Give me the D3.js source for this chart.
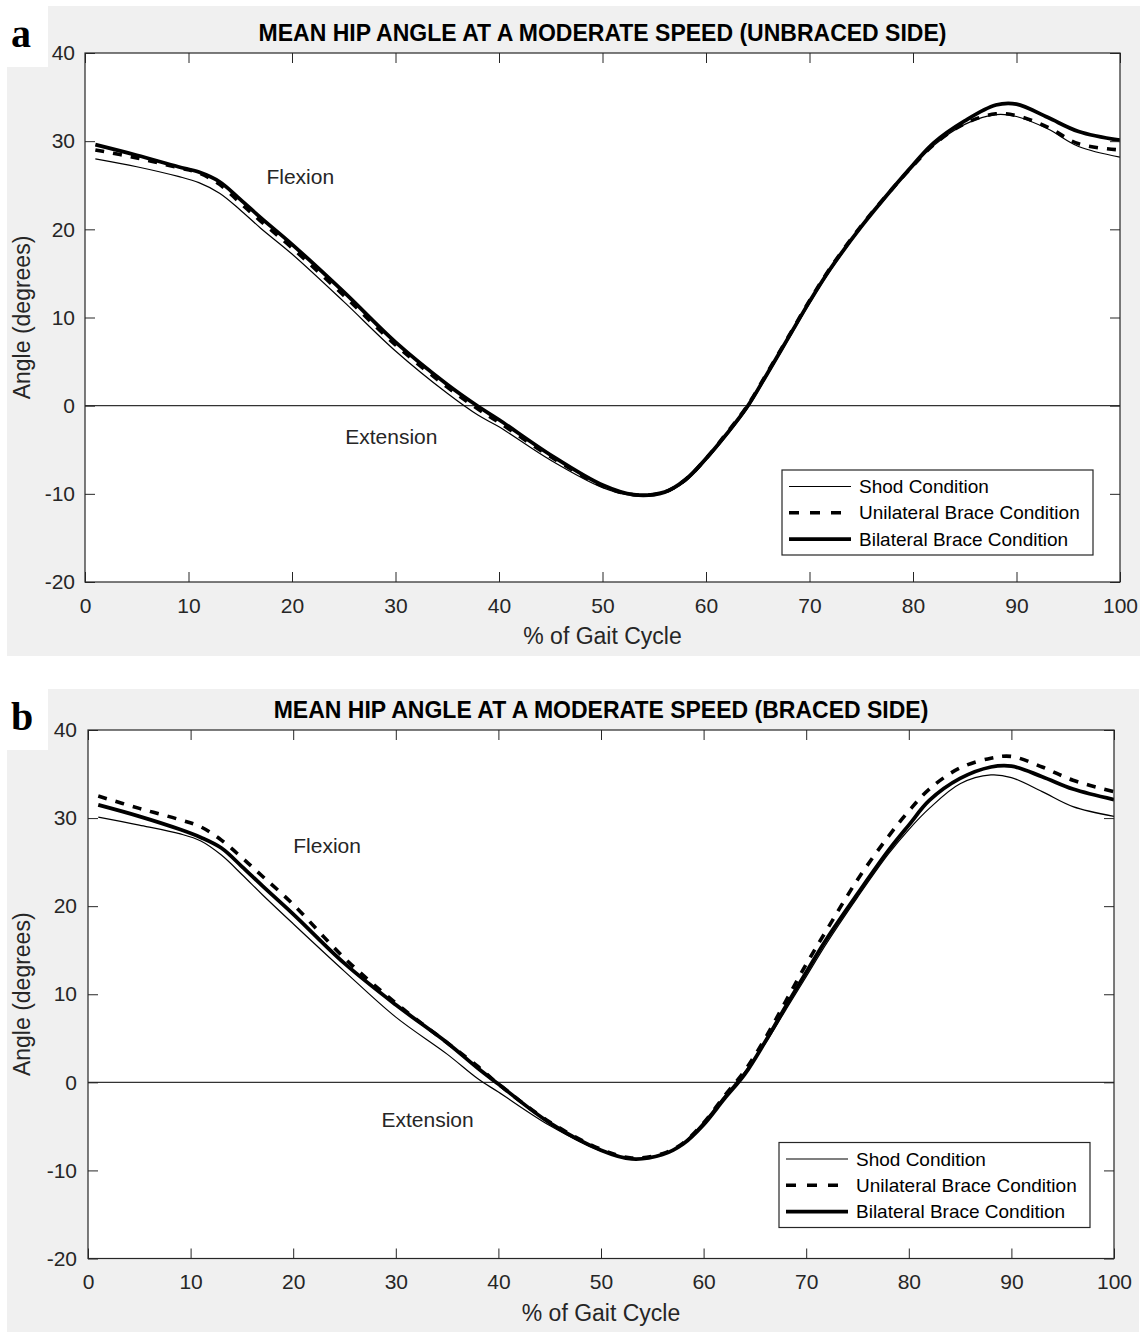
<!DOCTYPE html>
<html>
<head>
<meta charset="utf-8">
<script src="https://cdn.jsdelivr.net/npm/d3@7"></script>
<style>
  body { margin: 0; background: #fff; }
  text { font-family: "Liberation Sans", Arial, Helvetica, sans-serif; }
</style>
</head>
<body>
<svg width="1145" height="1332"></svg>
<script>
"use strict";

// % of gait cycle at which the curves were read
var gait = [1, 5, 9, 11, 13, 15, 17, 20, 25, 30, 35, 38, 40, 45, 50, 53, 56, 58, 60, 62,
            64, 66, 68, 70, 72, 75, 78, 80, 82, 85, 88, 90, 93, 96, 100];

// Panel a: unbraced side (degrees)
var shodA = [28.0, 27.1, 26.0, 25.3, 24.1, 22.2, 20.1, 17.2, 11.8, 6.2, 1.4, -1.1, -2.4, -6.2, -9.3, -10.2, -9.9, -8.6, -6.2, -3.4,
             -0.3, 3.6, 7.6, 11.6, 15.3, 20.2, 24.5, 27.1, 29.5, 31.9, 33.0, 32.8, 31.4, 29.4, 28.2];
var uniA  = [29.0, 28.1, 27.0, 26.4, 25.1, 23.0, 20.9, 17.9, 12.5, 6.9, 2.1, -0.4, -1.9, -5.8, -9.1, -10.1, -9.8, -8.4, -6.0, -3.1,
             0.0, 3.9, 7.9, 11.9, 15.6, 20.4, 24.6, 27.2, 29.6, 32.0, 33.1, 32.9, 31.6, 29.7, 29.0];
var bilA  = [29.6, 28.4, 27.1, 26.5, 25.4, 23.4, 21.3, 18.3, 12.9, 7.2, 2.4, -0.1, -1.6, -5.6, -9.0, -10.1, -9.8, -8.4, -6.0, -3.2,
             -0.1, 3.8, 7.8, 11.8, 15.5, 20.3, 24.6, 27.3, 29.8, 32.3, 34.1, 34.2, 32.7, 31.1, 30.1];

// Panel b: braced side (degrees)
var shodB = [30.1, 29.2, 28.2, 27.4, 25.8, 23.6, 21.3, 18.0, 12.6, 7.4, 3.2, 0.4, -1.1, -4.9, -7.8, -8.7, -8.2, -6.9, -4.5, -1.6,
             1.2, 4.4, 8.2, 12.0, 15.8, 21.0, 25.9, 28.7, 31.1, 33.9, 34.9, 34.6, 33.0, 31.3, 30.2];
var uniB  = [32.5, 31.1, 29.8, 29.0, 27.5, 25.5, 23.4, 20.2, 14.1, 9.0, 4.5, 1.8, -0.2, -4.5, -7.6, -8.6, -8.1, -6.9, -4.6, -1.6,
             1.3, 5.0, 9.2, 13.4, 17.3, 23.0, 27.9, 30.8, 33.3, 35.7, 36.8, 37.0, 35.8, 34.3, 33.0];
var bilB  = [31.5, 30.2, 28.7, 27.8, 26.6, 24.5, 22.3, 19.1, 13.5, 8.8, 4.5, 1.6, -0.2, -4.6, -7.7, -8.7, -8.2, -7.0, -4.8, -1.9,
             0.9, 4.6, 8.6, 12.5, 16.3, 21.4, 26.3, 29.2, 32.0, 34.5, 35.8, 35.9, 34.7, 33.3, 32.1];

var legendLabels = ["Shod Condition", "Unilateral Brace Condition", "Bilateral Brace Condition"];
var xTicks = [0, 10, 20, 30, 40, 50, 60, 70, 80, 90, 100];
var yTicks = [-20, -10, 0, 10, 20, 30, 40];

// Line style per condition (shod, unilateral, bilateral)
var lineStyles = [
    { width: 1.2, dash: null },
    { width: 3.6, dash: "9,9" },
    { width: 3.8, dash: null }
];

var svg = d3.select("svg");
var axisColor = "#262626";

// Plain hyphen for negative numbers, like the original
var plainFormat = function(d) { return String(d); };

var drawPanel = function(p, idx) {

    var g = svg.append("g").attr("class", "panel");

    // Grey figure background with the white notch behind the panel letter
    g.append("path")
        .attr("d", "M48," + p.bgTop + "H" + p.bgRight + "V" + p.bgBottom + "H7V" + (p.bgTop + 61) + "H48Z")
        .attr("fill", "#f0f0f0");

    var xScale = d3.scaleLinear().domain([0, 100]).range([p.left, p.right]);
    var yScale = d3.scaleLinear().domain([-20, 40]).range([p.bottom, p.top]);

    // White axes area
    g.append("rect")
        .attr("x", p.left).attr("y", p.top)
        .attr("width", p.right - p.left).attr("height", p.bottom - p.top)
        .attr("fill", "#fff");

    g.append("clipPath").attr("id", "clip" + idx)
        .append("rect")
        .attr("x", p.left).attr("y", p.top)
        .attr("width", p.right - p.left).attr("height", p.bottom - p.top);

    var plot = g.append("g").attr("clip-path", "url(#clip" + idx + ")");

    // Zero reference line
    plot.append("line")
        .attr("x1", xScale(0)).attr("x2", xScale(100))
        .attr("y1", yScale(0)).attr("y2", yScale(0))
        .attr("stroke", "#333").attr("stroke-width", 1.3);

    // Condition curves
    var line = d3.line()
        .x(function(d, i) { return xScale(gait[i]); })
        .y(function(d) { return yScale(d); })
        .curve(d3.curveCatmullRom.alpha(0.5));

    p.series.forEach(function(values, i) {
        plot.append("path")
            .datum(values)
            .attr("d", line)
            .attr("fill", "none")
            .attr("stroke", "#000")
            .attr("stroke-width", lineStyles[i].width)
            .attr("stroke-dasharray", lineStyles[i].dash)
            .attr("stroke-linejoin", "round");
    });

    // Axes, ticks pointing inward on all four sides
    var styleAxis = function(sel) {
        sel.select(".domain").remove();
        sel.selectAll("line").attr("stroke", axisColor);
        sel.selectAll("text")
            .attr("fill", axisColor)
            .style("font-size", "21px")
            .style("font-family", "'Liberation Sans', Arial, sans-serif");
    };

    g.append("g")
        .attr("transform", "translate(0," + p.bottom + ")")
        .call(d3.axisBottom(xScale).tickValues(xTicks).tickFormat(plainFormat)
            .tickSizeInner(-10).tickSizeOuter(0).tickPadding(16))
        .call(styleAxis);

    g.append("g")
        .attr("transform", "translate(0," + p.top + ")")
        .call(d3.axisTop(xScale).tickValues(xTicks).tickSizeInner(-10).tickSizeOuter(0).tickFormat(""))
        .call(styleAxis);

    g.append("g")
        .attr("transform", "translate(" + p.left + ",0)")
        .call(d3.axisLeft(yScale).tickValues(yTicks).tickFormat(plainFormat)
            .tickSizeInner(-10).tickSizeOuter(0).tickPadding(p.yPad))
        .call(styleAxis);

    g.append("g")
        .attr("transform", "translate(" + p.right + ",0)")
        .call(d3.axisRight(yScale).tickValues(yTicks).tickSizeInner(-10).tickSizeOuter(0).tickFormat(""))
        .call(styleAxis);

    // Axes box
    g.append("rect")
        .attr("x", p.left).attr("y", p.top)
        .attr("width", p.right - p.left).attr("height", p.bottom - p.top)
        .attr("fill", "none")
        .attr("stroke", axisColor)
        .attr("stroke-width", 1.2);

    // Title
    g.append("text")
        .attr("x", (p.left + p.right) / 2)
        .attr("y", p.top - 12)
        .attr("text-anchor", "middle")
        .style("font-size", "23px")
        .style("font-weight", "bold")
        .attr("fill", "#000")
        .text(p.title);

    // Axis labels
    g.append("text")
        .attr("x", (p.left + p.right) / 2)
        .attr("y", p.bottom + 62)
        .attr("text-anchor", "middle")
        .style("font-size", "23px")
        .attr("fill", axisColor)
        .text("% of Gait Cycle");

    g.append("text")
        .attr("transform", "translate(30," + (p.top + p.bottom) / 2 + ") rotate(-90)")
        .attr("text-anchor", "middle")
        .style("font-size", "23px")
        .attr("fill", axisColor)
        .text("Angle (degrees)");

    // Flexion / Extension notes
    p.notes.forEach(function(n) {
        g.append("text")
            .attr("x", xScale(n.x))
            .attr("y", yScale(n.y))
            .attr("text-anchor", "middle")
            .attr("dy", "0.35em")
            .style("font-size", "21px")
            .attr("fill", axisColor)
            .text(n.text);
    });

    // Panel letter
    g.append("text")
        .attr("x", 11)
        .attr("y", p.bgTop + 41)
        .style("font-family", "'Liberation Serif', 'Times New Roman', serif")
        .style("font-size", "40px")
        .style("font-weight", "bold")
        .attr("fill", "#000")
        .text(p.letter);

    // Legend
    var lg = g.append("g")
        .attr("transform", "translate(" + (p.right - p.legendRight - 311) + "," + (p.bottom - p.legendBottom - 85) + ")");

    lg.append("rect")
        .attr("width", 311).attr("height", 85)
        .attr("fill", "#fff")
        .attr("stroke", axisColor)
        .attr("stroke-width", 1.2);

    legendLabels.forEach(function(label, i) {
        var ly = 16.5 + i * 26.3;
        lg.append("line")
            .attr("x1", 7).attr("x2", 69)
            .attr("y1", ly).attr("y2", ly)
            .attr("stroke", "#000")
            .attr("stroke-width", lineStyles[i].width)
            .attr("stroke-dasharray", i === 1 ? "10,11" : null);
        lg.append("text")
            .attr("x", 77)
            .attr("y", ly)
            .attr("dy", "0.35em")
            .style("font-size", "19px")
            .attr("fill", "#000")
            .text(label);
    });
};

drawPanel({
    letter: "a",
    title: "MEAN HIP ANGLE AT A MODERATE SPEED (UNBRACED SIDE)",
    bgTop: 6, bgBottom: 656, bgRight: 1140,
    left: 85, right: 1120, top: 53, bottom: 582, yPad: 10,
    legendRight: 27, legendBottom: 27,
    series: [shodA, uniA, bilA],
    notes: [{ text: "Flexion", x: 20.8, y: 26 }, { text: "Extension", x: 29.6, y: -3.5 }]
}, 0);

drawPanel({
    letter: "b",
    title: "MEAN HIP ANGLE AT A MODERATE SPEED (BRACED SIDE)",
    bgTop: 689, bgBottom: 1332, bgRight: 1139,
    left: 88, right: 1114, top: 730, bottom: 1258.5, yPad: 11,
    legendRight: 24, legendBottom: 31,
    series: [shodB, uniB, bilB],
    notes: [{ text: "Flexion", x: 23.3, y: 26.9 }, { text: "Extension", x: 33.1, y: -4.2 }]
}, 1);
</script>
</body>
</html>
